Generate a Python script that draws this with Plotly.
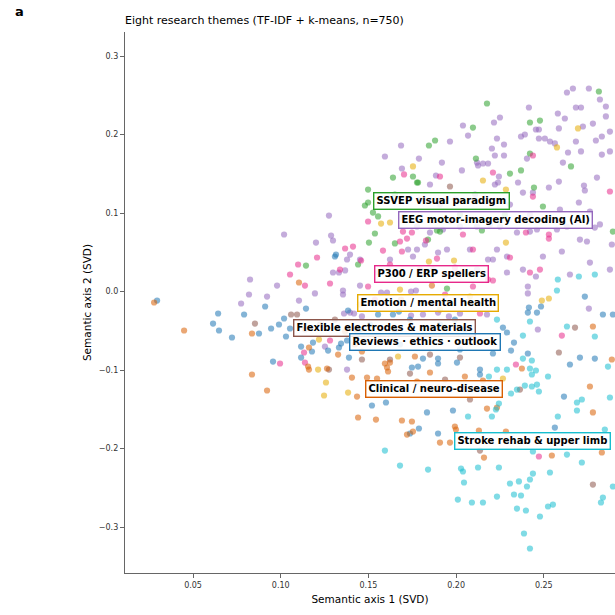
import plotly.graph_objects as go

# ---------------- data (semantic axis 1, semantic axis 2) ----------------
themes = ["EEG motor-imagery decoding (AI)", "SSVEP visual paradigm", "P300 / ERP spellers",
          "Emotion / mental health", "Flexible electrodes & materials", "Reviews · ethics · outlook",
          "Clinical / neuro-disease", "Stroke rehab & upper limb"]
colors = ["#9467bd", "#2ca02c", "#e7298a", "#e6ab02", "#8c564b", "#1f77b4", "#d95f02", "#17becf"]

eeg_x = [0.2632,0.2666,0.2757,0.2415,0.2683,0.2712,0.2854,0.258,0.262,0.2216,0.225,0.278,0.2854,0.2039,0.2723,
         0.2455,0.2472,0.2586,0.2068,0.2233,0.237,0.2392,0.2472,0.2506,0.2535,0.2563,0.2683,0.2797,0.2831,0.2877,
         0.1686,0.1594,0.1788,0.2204,0.2273,0.2221,0.2273,0.2404,0.2638,0.2712,0.2831,0.2877,0.1919,0.2119,0.2125,
         0.2153,0.2182,0.2033,0.1691,0.1885,0.2244,0.2221,0.2239,0.2353,0.2381,0.2438,0.2529,0.2586,0.2609,0.2803,
         0.2729,0.2734,0.27,0.2307,0.1275,0.1019,0.1201,0.1287,0.1298,0.1298,0.1332,0.1367,0.0825,0.0979,0.0819,
         0.0774,0.0922,0.1104,0.1195,0.1355,0.1355,0.1361,0.1252,0.1378,0.1452,0.1572,0.1606,0.1743,0.1771,0.2409,
         0.2409,0.2757,0.1395,0.1418,0.1463,0.1743,0.1811,0.1897,0.1959,0.2022,0.2176,0.2466,0.1697,0.1777,0.1851,
         0.1925,0.1965,0.2022,0.2119,0.2193,0.225,0.2347,0.2421,0.2461,0.2575,0.2632,0.2706,0.2746,0.2791,0.2763,
         0.2603,0.2495,0.2455,0.229,0.2233,0.2182,0.221,0.2079,0.1948,0.1897,0.1777,0.1726,0.1822,0.1623,0.1555,
         0.1663,0.1754,0.1868,0.2005,0.2119,0.229,0.2381,0.1395,0.1452,0.1378,0.2888,0.2108,0.1994,0.1908,0.1794,
         0.2421,0.2592,0.2763,0.282,0.2877,0.2649,0.1965,0.1851,0.282]
eeg_y = [0.2535,0.2586,0.2586,0.2344,0.2344,0.2344,0.2357,0.2268,0.2204,0.2153,0.2217,0.214,0.223,0.2115,0.2102,
         0.2064,0.2064,0.2077,0.1987,0.1949,0.1975,0.2,0.1949,0.1949,0.1911,0.1886,0.1911,0.1924,0.1975,0.2038,
         0.186,0.172,0.1694,0.1822,0.1873,0.1733,0.1733,0.1694,0.1771,0.1784,0.1745,0.1784,0.1643,0.1643,0.1605,
         0.1631,0.1631,0.1542,0.1567,0.1478,0.1465,0.1363,0.1389,0.1389,0.1261,0.1261,0.1325,0.1401,0.1643,0.1452,
         0.135,0.1287,0.1134,0.1108,0.0968,0.0726,0.0624,0.0713,0.065,0.0242,0.0242,0.0268,0.0153,0.0076,-0.0038,
         -0.0153,-0.0064,-0.0115,-0.0025,0.0013,-0.0038,-0.028,-0.0701,-0.0994,0.0076,-0.0013,-0.0013,0.0,0.0013,0.0064,
         -0.0025,-0.0217,-0.0268,-0.028,-0.0318,-0.0306,-0.0293,-0.0268,-0.0318,-0.028,-0.0293,-0.0484,0.0943,0.0828,0.0752,
         0.079,0.0892,0.0828,0.0828,0.0854,0.0828,0.0752,0.0764,0.079,0.079,0.0828,0.0662,0.0637,0.0815,0.0369,
         0.051,0.0446,0.0191,0.0446,0.0535,0.0408,0.0408,0.0535,0.0535,0.0497,0.0535,0.0535,0.0599,0.0408,0.0242,
         0.0242,0.0446,0.028,0.0242,0.028,0.0242,0.028,0.0471,0.0408,0.0408,0.0599,0.1236,0.1172,0.1108,0.1172,
         0.0981,0.1045,0.1019,0.0854,0.028,0.0217,0.1911,0.1363,0.2446]

ssvep_x = [0.2176,0.2421,0.2478,0.2814,0.2096,0.188,0.1845,0.2113,0.1754,0.1777,0.164,0.2307,0.237,0.2444,0.2421,
           0.2655,0.2495,0.1144,0.1948,0.1498,0.148,0.1498,0.1526,0.1555,0.1537,0.1651,0.1891,0.1908,0.184,0.2147,
           0.2894,0.1503,0.1783,0.1651,0.2022,0.2278,0.1441]
ssvep_y = [0.2395,0.2153,0.2178,0.2548,0.2089,0.1924,0.186,0.1694,0.1465,0.1389,0.1452,0.1503,0.1542,0.1325,0.1758,
           0.1593,0.1083,0.0331,0.0038,0.1299,0.1096,0.1134,0.1006,0.0956,0.0739,0.0612,0.0777,0.0764,0.0662,0.0777,
           0.0764,0.0624,0.1389,0.1236,0.0981,0.0981,0.0344]

p300_x = [0.1138,0.1281,0.1367,0.0996,0.1133,0.1138,0.1281,0.1498,0.2096,0.221,0.1703,0.1908,0.221,0.2438,0.2877,
          0.1498,0.1412,0.1583,0.168,0.1691,0.1748,0.1697,0.1458,0.1891,0.2039,0.2398,0.2529,0.2529,0.2096,0.2421,
          0.2478,0.2182,0.172,0.1828,0.2438,0.2136,0.2603,0.1207,0.1099,0.1338,0.1623,0.1794,0.1993,0.2307,0.1053,
          0.1537,0.1937,0.2341,0.2472]
p300_y = [0.0076,0.0102,0.0548,-0.0917,-0.0777,-0.0905,-0.0624,0.0064,0.0064,0.014,0.1491,0.1465,0.1516,0.121,0.1274,
          0.0892,0.0573,0.0522,0.0637,0.051,0.0752,0.0764,0.0395,0.042,0.0726,0.0752,0.0726,0.0675,0.0535,0.0242,
          0.028,0.0153,0.0675,0.065,0.1733,-0.028,-0.0561,0.0433,0.0344,0.028,0.0344,0.028,0.0306,0.0433,0.0217,
          -0.0102,-0.0038,-0.093,-0.2102]

emotion_x = [0.1218,0.1213,0.1258,0.1247,0.1384,0.1754,0.2284,0.2695,0.2575,0.2489,0.2529,0.2267,0.1572,0.1623,
             0.2284,0.1845,0.1988,0.1669,0.2153,0.168,0.1452,0.2079,0.1908]
emotion_y = [-0.0612,-0.0994,-0.1159,-0.1325,-0.1287,0.1593,0.1299,0.2077,0.1835,-0.0115,-0.0089,-0.1108,0.0866,0.0879,
             0.0624,0.0382,0.0395,-0.0828,0.1414,0.0025,-0.0166,-0.0064,-0.0229]

flex_x = [0.0853,0.1059,0.1093,0.1275,0.1309,0.2136,0.278,0.2586,0.1965,0.1737,0.1623,0.1138,0.1224,0.2022,0.1463,
          0.1851,0.1937,0.2079,0.2364,0.143,0.2678]
flex_y = [-0.0408,-0.0293,-0.0293,-0.0994,-0.0357,-0.2026,-0.2459,-0.0777,0.1338,-0.1045,-0.0866,-0.0484,-0.042,-0.0841,
          -0.0866,-0.0803,-0.1121,-0.1376,-0.1249,-0.0484,-0.0459]

reviews_x = [0.0295,0.0614,0.0643,0.0648,0.0722,0.0791,0.0876,0.0911,0.0945,0.099,0.1019,0.103,0.1053,0.1144,0.0956,
             0.1116,0.1116,0.1178,0.1184,0.127,0.1332,0.1344,0.1378,0.1389,0.1384,0.1315,0.1555,0.164,0.1674,0.1811,
             0.1897,0.1897,0.1783,0.1748,0.2005,0.1982,0.1897,0.1788,0.1737,0.1834,0.152,0.16,0.2136,0.2136,0.221,
             0.2313,0.2409,0.233,0.229,0.2267,0.2484,0.2461,0.2415,0.2409,0.2734,0.2837,0.2894,0.2791,0.2706,0.2649,
             0.2615,0.2563,0.1452,0.1509,0.1651,0.1737,0.1993,0.205,0.1908,0.168,0.2022,0.1309]
reviews_y = [-0.0115,-0.0408,-0.028,-0.0497,-0.0586,-0.0293,-0.0535,-0.0191,-0.0471,-0.042,-0.0344,-0.0573,-0.0471,-0.0217,-0.0892,
             -0.0701,-0.0841,-0.0764,-0.065,-0.0752,-0.0713,-0.0662,-0.0624,-0.0841,-0.0242,0.0471,-0.0293,-0.0293,-0.0255,-0.0854,
             -0.0854,-0.0917,-0.0956,-0.0968,-0.0905,-0.1516,-0.1809,-0.1745,-0.1809,-0.1541,-0.1452,-0.1414,-0.0994,-0.1057,-0.079,
             -0.0752,-0.079,-0.065,-0.0522,-0.0459,-0.0191,-0.0268,-0.0204,-0.0268,-0.0064,-0.0293,-0.0293,-0.0854,-0.0841,-0.093,
             -0.1338,-0.1733,-0.0484,-0.042,-0.0484,-0.0357,-0.0357,-0.0484,-0.042,-0.0675,-0.0739,0.0446]

clinical_x = [0.0278,0.0449,0.0836,0.0836,0.0922,0.1104,0.1156,0.1161,0.1161,0.1264,0.1441,0.1543,0.1691,0.1748,0.1754,
              0.172,0.1908,0.1965,0.1993,0.1999,0.213,0.2159,0.2176,0.2233,0.2284,0.2546,0.2763,0.278,0.2831,0.278,
              0.1851,0.1765,0.1435,0.1606,0.1623,0.1594,0.1492,0.1549,0.1777,0.205,0.2153,0.2375,0.1897,0.1327,0.1406,
              0.1862,0.1612,0.1686,0.2888,0.1463,0.1367,0.1423]
clinical_y = [-0.014,-0.0497,-0.0535,-0.1057,-0.1261,0.0115,-0.0956,-0.0994,-0.0713,-0.0981,-0.1605,-0.1631,-0.1643,-0.1656,-0.1784,
              -0.1822,-0.1924,-0.1924,-0.172,-0.1758,-0.1771,-0.2115,-0.1491,-0.1478,-0.1784,-0.2089,-0.121,-0.1541,-0.2051,-0.0446,
              -0.1032,-0.0828,-0.1338,-0.0968,-0.0905,-0.0917,-0.1096,-0.1108,-0.1147,-0.1083,-0.1134,-0.0981,-0.1223,-0.0803,-0.1096,
              0.0076,-0.1019,-0.0102,-0.0866,-0.0764,-0.051,-0.0675]

stroke_x = [0.1594,0.168,0.184,0.2028,0.2039,0.2045,0.2125,0.2244,0.201,0.209,0.2153,0.2233,0.2307,0.233,0.237,
            0.2358,0.2404,0.2421,0.2438,0.2535,0.2347,0.2398,0.2478,0.2524,0.2552,0.2387,0.2421,0.2438,0.2632,0.2717,
            0.2826,0.2837,0.2894,0.2068,0.2204,0.2227,0.258,0.2689,0.2717,0.2689,0.2791,0.2632,0.2233,0.229,0.2421,
            0.2381,0.2432,0.2455,0.2432,0.2392,0.2432,0.2461,0.2472,0.2313,0.2347,0.2187,0.2244,0.2524,0.2421,0.2381,
            0.2233,0.2575,0.27,0.2791,0.258,0.2866,0.2877,0.2848]
stroke_y = [-0.2026,-0.2217,-0.2268,-0.2255,-0.2293,-0.2433,-0.2242,-0.2242,-0.265,-0.2688,-0.2688,-0.2612,-0.2446,-0.2586,-0.2599,
            -0.242,-0.2484,-0.2395,-0.2319,-0.2306,-0.2765,-0.279,-0.2866,-0.2739,-0.2714,-0.3083,-0.3274,-0.2038,-0.2077,-0.2178,
            -0.2688,-0.2624,-0.2484,-0.1592,-0.1592,-0.1503,-0.1592,-0.1414,-0.1376,-0.1516,-0.0573,-0.0446,-0.0994,-0.0994,-0.0981,
            -0.0854,-0.0879,-0.1006,-0.1057,-0.1198,-0.121,-0.1185,-0.1274,-0.1299,-0.1249,-0.1083,-0.1427,-0.1083,-0.0382,-0.0561,
            -0.0357,0.0013,0.0191,0.0217,0.0153,-0.0956,-0.135,-0.1758]

# theme label anchor positions (cluster centres, data units)
label_x = [0.2227, 0.1914, 0.1857, 0.1837, 0.1589, 0.1823, 0.1875, 0.2438]
label_y = [0.0917, 0.1159, 0.0229, -0.0140, -0.0471, -0.0637, -0.1236, -0.1910]

series = [(eeg_x, eeg_y), (ssvep_x, ssvep_y), (p300_x, p300_y), (emotion_x, emotion_y),
          (flex_x, flex_y), (reviews_x, reviews_y), (clinical_x, clinical_y), (stroke_x, stroke_y)]

fig = go.Figure()
for name, col, (xs, ys) in zip(themes, colors, series):
    fig.add_trace(go.Scatter(x=xs, y=ys, mode="markers", name=name,
                             marker=dict(color=col, size=6.2, opacity=0.55, line=dict(width=0)),
                             showlegend=False, cliponaxis=True))

for name, col, lx, ly in zip(themes, colors, label_x, label_y):
    fig.add_annotation(x=lx, y=ly, text="<b>" + name + "</b>", showarrow=False,
                       font=dict(family="DejaVu Sans", size=10, color="black"),
                       bgcolor="rgba(255,255,255,0.85)", bordercolor=col, borderwidth=1.4, borderpad=2)

fig.add_annotation(text="<b>a</b>", xref="paper", yref="paper", x=-0.228, y=1.037,
                   showarrow=False, font=dict(family="DejaVu Sans", size=13, color="black"),
                   xanchor="left", yanchor="middle")

axis_common = dict(showline=True, linecolor="#666666", linewidth=1.3, ticks="outside", ticklen=4,
                   tickcolor="#666666", tickwidth=1, showgrid=False, zeroline=False, mirror=False,
                   tickfont=dict(family="DejaVu Sans", size=8, color="#333333"))

fig.update_layout(
    width=615, height=615,
    margin=dict(l=125, r=0, t=32, b=42),
    plot_bgcolor="white", paper_bgcolor="white",
    title=dict(text="Eight research themes (TF-IDF + k-means, n=750)", x=125/615, xanchor="left",
               xref="container", y=1 - 20/615, yanchor="middle", yref="container",
               font=dict(family="DejaVu Sans", size=11, color="black")),
    xaxis=dict(range=[0.0112, 0.2906], tickvals=[0.05, 0.10, 0.15, 0.20, 0.25], tickformat=".2f",
               title=dict(text="Semantic axis 1 (SVD)", font=dict(family="DejaVu Sans", size=10.5, color="black"),
                          standoff=6), **axis_common),
    yaxis=dict(range=[-0.3586, 0.3306], tickvals=[-0.3, -0.2, -0.1, 0.0, 0.1, 0.2, 0.3], tickformat=".1f",
               title=dict(text="Semantic axis 2 (SVD)", font=dict(family="DejaVu Sans", size=10.5, color="black"),
                          standoff=5), **axis_common),
)

fig.write_html("out.html")
